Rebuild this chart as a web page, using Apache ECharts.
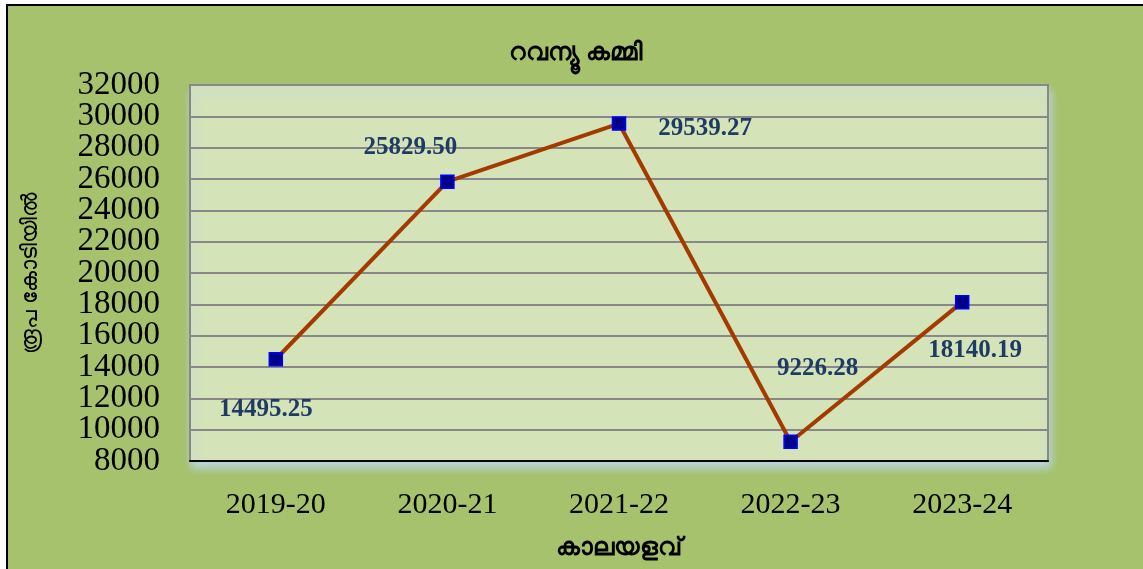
<!DOCTYPE html>
<html>

<head>
  <meta charset="utf-8" />
  <script src="https://cdn.jsdelivr.net/npm/echarts@6/dist/echarts.min.js"></script>
  <style>
    html, body { margin: 0; padding: 0; background: #fff; }
    #main {
      position: absolute; left: 6px; top: 4px;
      width: 1137px; height: 565px;
      border-left: 2px solid #000; border-top: 2px solid #000;
      box-sizing: border-box;
    }
  </style>
</head>

<body>
  <div id="main"></div>
  <script type="text/javascript">
    var years = ['2019-20', '2020-21', '2021-22', '2022-23', '2023-24']
    var deficit = [14495.25, 25829.50, 29539.27, 9226.28, 18140.19]
    var labelText = ['14495.25', '25829.50', '29539.27', '9226.28', '18140.19']
    // label offsets from the marker centre, in px
    var labelOffsets = [[-10, 50], [-37, -34], [86, 5], [27, -73], [13, 48]]
    var yMin = 8000, yMax = 32000, yStep = 2000

    var myChart = echarts.init(document.getElementById('main'));

    var points = deficit.map(function (v, i) {
      return {
        value: v,
        label: { offset: labelOffsets[i], formatter: labelText[i] }
      }
    })

    var serif = 'Liberation Serif, Times New Roman, serif'
    var plotTop = 79, plotH = 376
    var stepPx = plotH * yStep / (yMax - yMin)
    // the tick labels are taller than one step, so they are split over two
    // axes (even and odd steps) to keep echarts from dropping any of them
    var tickLabel = { margin: 30, fontSize: 33, color: '#000', fontFamily: serif }

    var option = {
      backgroundColor: '#a6c26c',
      title: {
        text: 'റവന്യൂ കമ്മി',
        left: 'center',
        top: 29,
        textStyle: { fontSize: 25, fontWeight: 'bold', color: '#000', fontFamily: 'Noto Sans, sans-serif' }
      },
      grid: [
        {
          left: 182, top: plotTop, width: 858, height: plotH,
          show: true,
          backgroundColor: '#d4e3b8',
          borderColor: '#888',
          borderWidth: 2,
          shadowColor: 'rgba(190,214,238,0.95)',
          shadowBlur: 8,
          shadowOffsetY: 6,
          shadowOffsetX: 2
        },
        {
          left: 182, top: plotTop - stepPx, width: 858, height: plotH + 2 * stepPx,
          show: false
        }
      ],
      xAxis: [
        {
          type: 'category',
          data: years,
          name: 'കാലയളവ്',
          nameLocation: 'middle',
          nameGap: 74,
          nameTextStyle: { fontSize: 25, fontWeight: 'bold', color: '#000', fontFamily: 'Noto Sans, sans-serif' },
          axisLine: { lineStyle: { color: '#000', width: 2 } },
          axisTick: { show: false },
          axisLabel: { margin: 29, fontSize: 30, color: '#000', fontFamily: serif }
        },
        { type: 'category', data: years, gridIndex: 1, show: false }
      ],
      yAxis: [
        {
          type: 'value',
          min: yMin,
          max: yMax,
          interval: yStep,
          name: 'രൂപ കോടിയിൽ',
          nameLocation: 'middle',
          nameGap: 148,
          nameTextStyle: { fontSize: 22, color: '#000', fontFamily: 'Noto Sans, sans-serif' },
          axisLine: { show: false },
          axisTick: { show: false },
          splitLine: { lineStyle: { color: '#888', width: 2 } },
          axisLabel: { show: false }
        },
        {
          type: 'value',
          position: 'left',
          min: yMin,
          max: yMax,
          interval: yStep * 2,
          axisLine: { show: false },
          axisTick: { show: false },
          splitLine: { show: false },
          axisLabel: Object.assign({
            showMinLabel: true, showMaxLabel: true,
            formatter: function (v) { return String(v) }
          }, tickLabel)
        },
        {
          type: 'value',
          gridIndex: 1,
          min: yMin - yStep,
          max: yMax + yStep,
          interval: yStep * 2,
          axisLine: { show: false },
          axisTick: { show: false },
          splitLine: { show: false },
          axisLabel: Object.assign({
            showMinLabel: false, showMaxLabel: false,
            formatter: function (v) { return (v < yMin || v > yMax) ? '' : String(v) }
          }, tickLabel)
        }
      ],
      series: [
        {
          type: 'line',
          data: points,
          symbol: 'rect',
          symbolSize: 13,
          itemStyle: { color: '#00008b', borderColor: '#0000ff', borderWidth: 1.5 },
          lineStyle: { color: '#a33b00', width: 4 },
          label: {
            show: true,
            position: 'inside',
            fontSize: 25,
            fontWeight: 'bold',
            color: '#1f3b64',
            fontFamily: serif
          },
          z: 3
        }
      ]
    };

    myChart.setOption(option);
  </script>
</body>

</html>
